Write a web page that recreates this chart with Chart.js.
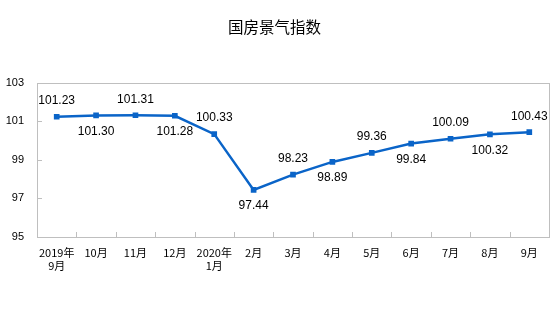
<!DOCTYPE html>
<html>
<head>
<meta charset="utf-8">
<script src="https://cdn.jsdelivr.net/npm/chart.js@4.4.1/dist/chart.umd.min.js"></script>
<style>
  html, body { margin: 0; padding: 0; background: #fff; }
  #wrap { width: 554px; height: 332px; }
</style>
</head>
<body>
<div id="wrap"><canvas id="myChart" width="554" height="332"></canvas></div>
<script>
var chartTitle = '国房景气指数';
var months = [['2019年', '9月'], '10月', '11月', '12月', ['2020年', '1月'], '2月', '3月', '4月', '5月', '6月', '7月', '8月', '9月'];
var indexValues = [101.23, 101.30, 101.31, 101.28, 100.33, 97.44, 98.23, 98.89, 99.36, 99.84, 100.09, 100.32, 100.43];
var yTicks = [95, 97, 99, 101, 103];

var lineColor = '#0a64c8';

// frame around plot area + short inward ticks
var framePlugin = {
    id: 'frame',
    afterDraw: function(chart) {
        var ctx = chart.ctx;
        var a = chart.chartArea;
        var xs = chart.scales.x;
        var ys = chart.scales.y;
        ctx.save();
        ctx.strokeStyle = '#bfbfbf';
        ctx.lineWidth = 1;
        ctx.strokeRect(Math.round(a.left) + 0.5, Math.round(a.top) + 0.5, Math.round(a.right - a.left), Math.round(a.bottom - a.top));
        ctx.beginPath();
        for (var i = 0; i < yTicks.length; i++) {
            var py = Math.round(ys.getPixelForValue(yTicks[i])) + 0.5;
            ctx.moveTo(a.left, py);
            ctx.lineTo(a.left + 5, py);
        }
        for (var j = 0; j < months.length - 1; j++) {
            var px = Math.round((xs.getPixelForValue(j) + xs.getPixelForValue(j + 1)) / 2) + 0.5;
            ctx.moveTo(px, a.bottom);
            ctx.lineTo(px, a.bottom - 5);
        }
        ctx.stroke();
        ctx.restore();
    }
};

// value labels, alternating above / below
var labelPlugin = {
    id: 'valueLabels',
    afterDatasetsDraw: function(chart) {
        var ctx = chart.ctx;
        var meta = chart.getDatasetMeta(0);
        ctx.save();
        ctx.font = '12px "Liberation Sans", Arial, sans-serif';
        ctx.fillStyle = '#000';
        ctx.textAlign = 'center';
        ctx.textBaseline = 'middle';
        meta.data.forEach(function(pt, i) {
            var off = (i % 2 === 0) ? -16 : 16;
            ctx.fillText(indexValues[i].toFixed(2), pt.x, pt.y + off);
        });
        ctx.restore();
    }
};

var ctx = document.getElementById('myChart');
var myChart = new Chart(ctx, {
    type: 'line',
    data: {
        labels: months,
        datasets: [{
            data: indexValues,
            borderColor: lineColor,
            backgroundColor: lineColor,
            borderWidth: 2.5,
            pointStyle: 'rect',
            pointRadius: 4,
            pointBorderWidth: 0,
            tension: 0
        }]
    },
    options: {
        responsive: false,
        animation: false,
        layout: { padding: { left: 0, right: 5, top: 0, bottom: 0 } },
        plugins: {
            legend: { display: false },
            tooltip: { enabled: false },
            title: {
                display: true,
                text: chartTitle,
                color: '#000',
                font: { family: '"Noto Sans CJK SC", sans-serif', size: 15.5, weight: 'normal' },
                padding: { top: 18, bottom: 46 }
            }
        },
        scales: {
            x: {
                offset: true,
                grid: { display: false, drawTicks: false },
                border: { display: false },
                ticks: {
                    color: '#000',
                    font: { family: '"Noto Sans CJK SC", sans-serif', size: 11 },
                    padding: 9,
                    maxRotation: 0,
                    autoSkip: false
                },
                afterFit: function(scale) { scale.height = 95; }
            },
            y: {
                min: 95,
                max: 103,
                grid: { display: false, drawTicks: false },
                border: { display: false },
                afterBuildTicks: function(scale) {
                    scale.ticks = yTicks.map(function(v) { return { value: v }; });
                },
                ticks: {
                    color: '#000',
                    font: { family: '"Liberation Sans", Arial, sans-serif', size: 11 },
                    padding: 13
                },
                afterFit: function(scale) { scale.width = 37; }
            }
        }
    },
    plugins: [framePlugin, labelPlugin]
});
</script>
</body>
</html>
